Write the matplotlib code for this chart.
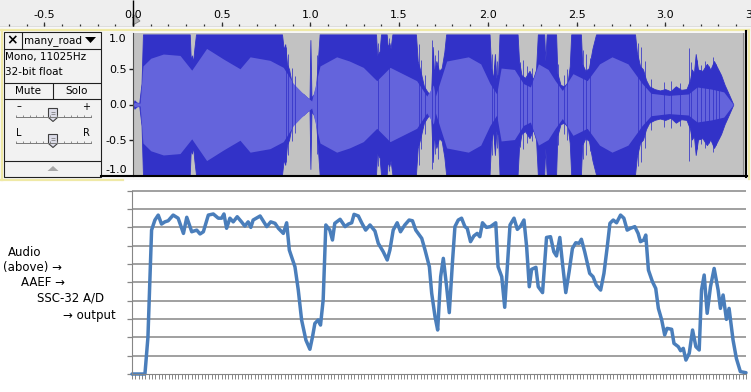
import numpy as np
import matplotlib
matplotlib.use("Agg")
import matplotlib.pyplot as plt
from matplotlib.patches import Rectangle, Polygon

W, H = 751, 392
PX_PER_S = 177.4      # ruler scale of the screenshot
T0_PX = 133           # x pixel of 0.0 s

# --- top: Audacity track -------------------------------------------------
ruler_ticks = [-0.5, 0.0, 0.5, 1.0, 1.5, 2.0, 2.5, 3.0, 3.5]
ruler_labels = ["-0.5", "0.0", "0.5", "1.0", "1.5", "2.0", "2.5", "3.0", "3.5"]

track_name = "many_road"
track_info = ["Mono, 11025Hz", "32-bit float"]

amp_ticks = [1.0, 0.5, 0.0, -0.5, -1.0]
amp_labels = ["1.0", "0.5", "0.0", "-0.5", "-1.0"]

# peak envelope of the waveform (seconds, amplitude)
wave_t = [0.000, 0.008, 0.020, 0.035, 0.048, 0.056, 0.320, 0.326, 0.332, 0.338,
          0.346, 0.355, 0.840, 0.850, 0.858, 0.868, 0.880, 0.892, 0.905, 0.930,
          0.960, 0.985, 0.995, 1.000, 1.006, 1.020, 1.032, 1.042, 1.052, 1.370,
          1.376, 1.390, 1.398, 1.430, 1.436, 1.445, 1.452, 1.462, 1.595, 1.605,
          1.620, 1.640, 1.660, 1.680, 1.690, 1.697, 1.710, 1.725, 1.740, 1.755,
          1.765, 2.010, 2.018, 2.030, 2.040, 2.048, 2.058, 2.066, 2.168, 2.176,
          2.190, 2.210, 2.235, 2.255, 2.272, 2.282, 2.318, 2.324, 2.332, 2.385,
          2.392, 2.410, 2.430, 2.450, 2.462, 2.470, 2.525, 2.532, 2.550, 2.570,
          2.590, 2.610, 2.830, 2.840, 2.858, 2.875, 2.892, 2.910, 2.940, 2.970,
          3.000, 3.030, 3.060, 3.090, 3.120, 3.140, 3.150, 3.162, 3.172, 3.185,
          3.210, 3.235, 3.255, 3.275, 3.295, 3.315, 3.335, 3.360, 3.384]
wave_peak = [0.00, 0.06, 0.03, 0.02, 0.30, 1.00, 1.00, 0.62, 0.70, 0.60,
             0.80, 1.00, 1.00, 0.78, 0.86, 0.58, 0.50, 0.34, 0.24, 0.18,
             0.15, 0.09, 0.08, 0.92, 0.10, 0.15, 0.26, 0.62, 1.00, 1.00,
             0.70, 0.76, 1.00, 1.00, 0.82, 0.88, 0.80, 1.00, 1.00, 0.62,
             0.48, 0.26, 0.18, 0.13, 0.82, 0.45, 0.62, 0.48, 0.52, 0.75,
             1.00, 1.00, 0.55, 0.36, 0.72, 0.38, 0.45, 1.00, 1.00, 0.62,
             0.42, 0.38, 0.48, 0.36, 0.50, 1.00, 1.00, 0.62, 1.00, 1.00,
             0.45, 0.28, 0.26, 0.32, 0.55, 1.00, 1.00, 0.58, 0.48, 0.52,
             0.80, 1.00, 1.00, 0.75, 0.55, 0.50, 0.35, 0.26, 0.22, 0.20,
             0.22, 0.19, 0.26, 0.21, 0.22, 0.35, 0.50, 0.45, 0.72, 0.50,
             0.48, 0.58, 0.50, 0.62, 0.52, 0.42, 0.28, 0.14, 0.00]

# single sample spikes sticking out of the envelope in the quieter parts
spike_t = [0.862, 0.876, 0.898, 0.915, 1.038, 1.383, 1.441, 1.612, 1.626, 1.648,
           1.688, 1.700, 1.718, 2.022, 2.036, 2.052, 2.182, 2.198, 2.222, 2.248,
           2.394, 2.428, 2.446, 2.538, 2.556, 2.578, 2.846, 2.866, 2.884, 2.922,
           2.992, 3.032, 3.082, 3.132, 3.146, 3.178, 3.204, 3.224, 3.248, 3.268,
           3.288, 3.306]
spike_h = [0.82, 0.72, 0.52, 0.40, 0.70, 0.88, 0.95, 0.86, 0.64, 0.42,
           0.92, 0.70, 0.78, 0.72, 0.56, 0.62, 0.60, 0.64, 0.55, 0.52,
           0.58, 0.42, 0.50, 0.78, 0.72, 0.66, 0.88, 0.82, 0.62, 0.36,
           0.32, 0.34, 0.31, 0.80, 0.60, 0.64, 0.56, 0.62, 0.55, 0.68,
           0.58, 0.48]

# rms envelope
rms_t = [0.000, 0.008, 0.040, 0.056, 0.100, 0.171, 0.265, 0.331, 0.415, 0.509,
         0.603, 0.660, 0.772, 0.847, 0.904, 0.950, 0.985, 1.007, 1.054, 1.148,
         1.220, 1.298, 1.374, 1.449, 1.520, 1.599, 1.656, 1.693, 1.705, 1.768,
         1.890, 1.960, 2.012, 2.050, 2.075, 2.150, 2.200, 2.240, 2.285, 2.340,
         2.380, 2.420, 2.480, 2.560, 2.630, 2.700, 2.790, 2.870, 2.920, 3.020,
         3.130, 3.180, 3.260, 3.330, 3.384]
wave_rms = [0.00, 0.03, 0.02, 0.55, 0.66, 0.72, 0.70, 0.49, 0.80, 0.65,
            0.51, 0.68, 0.63, 0.53, 0.30, 0.18, 0.10, 0.05, 0.55, 0.68,
            0.62, 0.53, 0.34, 0.53, 0.44, 0.34, 0.12, 0.28, 0.12, 0.62,
            0.68, 0.58, 0.30, 0.15, 0.52, 0.50, 0.30, 0.25, 0.58, 0.50,
            0.34, 0.20, 0.44, 0.34, 0.58, 0.68, 0.58, 0.30, 0.16, 0.13,
            0.15, 0.25, 0.22, 0.18, 0.00]

# --- bottom: A/D output line chart ---------------------------------------
n_samples = 185
grid_levels = list(range(11))
out_pos = [0, 3.9, 4.8, 5.9, 6.9, 7.9, 8.9, 9.9, 10.9, 12.4,
           13.9, 15.5, 16.5, 18.0, 19.5, 20.5, 21.5, 23.0, 24.5, 26.0,
           27.0, 27.7, 28.5, 29.5, 30.5, 31.7, 33.0, 34.0, 35.0, 35.8,
           36.5, 38.6, 40.6, 41.8, 43.1, 44.1, 45.6, 46.6, 47.4, 49.1,
           50.1, 51.1, 52.4, 53.6, 54.4, 55.1, 56.1, 56.8, 57.6, 58.4,
           59.6, 60.4, 61.1, 62.7, 64.2, 65.2, 66.2, 66.9, 68.2, 69.2,
           70.4, 71.7, 73.2, 74.2, 75.7, 76.9, 77.7, 78.7, 79.9, 80.9,
           82.2, 83.5, 84.5, 85.5, 87.3, 88.3, 89.6, 90.3, 91.3, 92.1,
           93.0, 93.8, 94.8, 95.6, 96.6, 97.3, 98.3, 99.3, 100.3, 101.0,
           102.0, 103.0, 104.0, 104.8, 105.6, 106.8, 108.0, 109.6, 110.3, 111.4,
           112.3, 113.1, 113.9, 115.1, 116.1, 117.1, 118.1, 118.9, 119.7, 120.4,
           121.7, 122.4, 123.7, 124.9, 126.1, 127.1, 127.9, 128.9, 129.7, 130.7,
           131.7, 132.7, 133.7, 134.7, 135.4, 136.4, 137.9, 138.9, 139.9, 141.2,
           142.2, 143.2, 144.0, 145.0, 146.0, 147.2, 148.2, 149.2, 150.2, 151.5,
           152.5, 153.2, 154.2, 154.8, 155.6, 156.8, 157.8, 158.6, 159.6, 160.5,
           161.2, 162.6, 163.3, 164.6, 165.3, 166.1, 166.9, 167.9, 168.9, 169.9,
           170.9, 171.6, 172.4, 173.3, 174.3, 175.4, 176.6, 177.3, 178.1, 179.1,
           179.9, 181.1, 182.1, 183.3, 185.0]
out_level = [0, 0, 2.0, 7.85, 8.4, 8.67, 8.18, 8.3, 8.36, 8.67,
             8.5, 7.67, 8.55, 7.76, 7.85, 7.64, 7.76, 8.67, 8.73, 8.5,
             8.5, 8.73, 7.95, 8.5, 8.3, 8.58, 8.3, 8.07, 8.3, 8.0,
             8.4, 8.62, 8.04, 8.3, 8.22, 7.95, 7.67, 8.25, 6.76, 5.85,
             4.58, 2.95, 1.85, 1.35, 2.04, 2.76, 2.95, 2.67, 4.04, 8.13,
             7.85, 7.31, 8.22, 8.44, 8.04, 8.18, 8.25, 8.71, 8.62, 8.25,
             7.85, 8.13, 7.8, 7.13, 6.67, 6.22, 6.76, 7.85, 8.25, 7.76,
             8.13, 8.4, 8.36, 7.85, 7.4, 6.76, 5.85, 4.4, 3.13, 2.4,
             5.31, 6.31, 4.76, 3.35, 6.22, 8.04, 8.4, 8.5, 8.04, 7.95,
             7.22, 7.53, 7.67, 7.49, 8.25, 8.0, 8.04, 8.25, 5.85, 5.31,
             3.64, 5.85, 8.13, 8.5, 7.89, 8.07, 8.4, 6.95, 4.76, 5.71,
             5.82, 4.76, 4.44, 7.45, 7.49, 6.67, 6.44, 7.45, 6.04, 4.44,
             5.58, 6.85, 7.16, 7.13, 7.35, 6.67, 5.49, 5.31, 4.85, 4.58,
             5.49, 6.95, 8.22, 8.4, 8.25, 8.67, 8.5, 7.85, 7.95, 8.04,
             7.67, 7.22, 7.31, 7.58, 5.67, 5.04, 4.67, 3.58, 2.95, 2.13,
             2.49, 2.44, 1.67, 1.49, 1.27, 1.4, 0.76, 1.13, 2.4, 1.49,
             1.31, 4.58, 5.4, 3.31, 4.76, 5.76, 4.58, 3.58, 4.31, 2.98,
             3.58, 1.85, 0.85, 0.13, 0.07]

caption = ["Audio", "(above) \u2192", "AAEF \u2192", "SSC-32 A/D", "\u2192 output"]

fig = plt.figure(figsize=(W / 100, H / 100), dpi=100)
fig.patch.set_facecolor("white")


def px_axes(x0, y0, x1, y1, z=1):
    ax = fig.add_axes([x0 / W, 1 - y1 / H, (x1 - x0) / W, (y1 - y0) / H])
    ax.set_zorder(z)
    return ax


# background layer in pixel coords
bg = px_axes(0, 0, W, H, 0)
bg.set_xlim(0, W)
bg.set_ylim(H, 0)
bg.axis("off")
bg.add_patch(Rectangle((0, 27), W, 153, facecolor="#f7f7f7", edgecolor="none"))
bg.add_patch(Rectangle((101, 31.5), 32, 144.5, facecolor="#f2f2f2", edgecolor="none"))

# ruler
ruler = px_axes(0, 0, W, 27, 1)
ruler.set_xlim(-T0_PX / PX_PER_S, (W - T0_PX) / PX_PER_S)
ruler.set_ylim(27, 0)
ruler.set_facecolor("#eeeeee")
for s in ruler.spines.values():
    s.set_visible(False)
ruler.set_xticks([])
ruler.set_yticks([])
minor_t = np.round(np.arange(-0.7, 3.55, 0.1), 1)
ruler.vlines(minor_t, 24.2, 25.6, color="#303030", lw=0.9)
ruler.vlines(ruler_ticks, 21.5, 25.6, color="#303030", lw=0.9)
for t, lab in zip(ruler_ticks, ruler_labels):
    ruler.text(t, 14.5, lab, ha="center", va="center", fontsize=8, clip_on=True)
ruler.axhline(26.5, color="#9a9a9a", lw=1)
ruler.vlines(0, 0, 26, color="black", lw=1)
ruler.add_patch(Polygon([(0, 14), (7 / PX_PER_S, 21), (0, 25)],
                        facecolor="#b4b4b4", edgecolor="#808080", lw=0.6))

# waveform
wave = px_axes(T0_PX, 33, 745, 176, 1)
wave.set_xlim(0, (745 - T0_PX) / PX_PER_S)
wave.set_ylim(-1.02, 1.02)
wave.set_facecolor("#c2c2c2")
wave.axvspan(3.44, 3.46, color="#d2d2d2", lw=0)
wave.axvline(3.44, color="#8c8c8c", lw=0.8)
wp = np.array(wave_peak)
wr = np.array(wave_rms)
sh = np.array(spike_h)
wave.fill_between(wave_t, -wp, wp, color="#3232c8", lw=0.6)
wave.vlines(spike_t, -sh, sh, color="#3232c8", lw=0.55)
wave.fill_between(rms_t, -wr, wr, color="#6464dc", lw=0)
for s in ["top", "right", "bottom"]:
    wave.spines[s].set_visible(False)
wave.spines["left"].set_color("#505050")
wave.set_xticks([])
wave.set_yticks(amp_ticks, amp_labels, fontsize=8)
wave.tick_params(axis="y", length=3, width=1, pad=1.5, color="#202020")
ylabs = wave.get_yticklabels()
ylabs[0].set_va("top")
ylabs[-1].set_va("bottom")
yt = wave.yaxis.get_major_ticks()
yt[0].tick1line.set_visible(False)
yt[-1].tick1line.set_visible(False)

# output chart
GRID = "#868686"
chart = px_axes(132, 190.7, 746, 374, 1)
chart.set_xlim(0, n_samples)
chart.set_ylim(0, 10)
chart.patch.set_visible(False)
chart.spines[["top", "right"]].set_visible(False)
chart.spines["left"].set_color(GRID)
chart.spines["bottom"].set_color(GRID)
chart.hlines(grid_levels[1:], 0, n_samples, color=GRID, lw=1.1, clip_on=False)
chart.set_yticks(grid_levels, [])
chart.set_xticks([])
chart.set_xticks(np.arange(0, n_samples + 1), minor=True)
chart.tick_params(axis="y", length=3.5, color=GRID, width=0.9)
chart.tick_params(axis="x", which="minor", length=3.5, color=GRID, width=0.7)
chart.plot(out_pos, out_level, color="#4a7ebb", lw=2.5, clip_on=False,
           solid_joinstyle="round", solid_capstyle="round")

# foreground: track frame, control panel, caption
fg = px_axes(0, 0, W, H, 3)
fg.set_xlim(0, W)
fg.set_ylim(H, 0)
fg.axis("off")
YEL = "#efe9a6"
fg.plot([0, 749], [30, 30], color=YEL, lw=1.6)
fg.plot([1.5, 1.5], [30, 180], color=YEL, lw=1.6)
fg.plot([748.5, 748.5], [30, 179], color=YEL, lw=1.6)
fg.plot([0, 123], [179.5, 179.5], color=YEL, lw=1.6)
fg.plot([101, 747], [176, 176], color="black", lw=1.5)
fg.plot([746, 746], [31, 177], color="black", lw=1.5)

fg.add_patch(Rectangle((3.5, 31.5), 97.5, 145, facecolor="#f2f2f2",
                       edgecolor="#202020", lw=0.8))
fg.hlines([48.5, 82.5, 98.5, 160.5], 3.5, 101, color="#202020", lw=0.8)
fg.vlines(21.5, 31.5, 48.5, color="#202020", lw=0.8)
fg.vlines(52.5, 82.5, 98.5, color="#202020", lw=0.8)
fg.text(12.5, 40, "\u00d7", ha="center", va="center", fontsize=10, fontweight="bold")
fg.text(24, 40.5, track_name, ha="left", va="center", fontsize=7.5)
fg.add_patch(Polygon([(85, 37), (96, 37), (90.5, 43)], facecolor="black", edgecolor="none"))
fg.text(5, 57, track_info[0], ha="left", va="center", fontsize=7.5)
fg.text(5, 72, track_info[1], ha="left", va="center", fontsize=7.5)
fg.text(27.5, 90.5, "Mute", ha="center", va="center", fontsize=7.5)
fg.text(76.5, 90.5, "Solo", ha="center", va="center", fontsize=7.5)

for y_track, left, right in [(116.5, "\u2013", "+"), (142.5, "L", "R")]:
    fg.text(19, y_track - 10, left, ha="center", va="center", fontsize=7)
    fg.text(86.5, y_track - 10, right, ha="center", va="center", fontsize=7)
    fg.plot([16, 91], [y_track, y_track], color="#7a7a7a", lw=0.7)
    fg.vlines(np.linspace(16, 91, 12), y_track - 1.8, y_track, color="#7a7a7a", lw=0.6)
    fg.add_patch(Polygon([(48.5, y_track - 8), (57.5, y_track - 8), (57.5, y_track + 1),
                          (53, y_track + 5), (48.5, y_track + 1)],
                         facecolor="#dcdce8", edgecolor="#404040", lw=0.8))
    fg.hlines([y_track - 4.5, y_track - 2.5], 51, 55, color="#707070", lw=0.5)

fg.add_patch(Polygon([(47.5, 171), (58.5, 171), (53, 166)], facecolor="#a8a8a8",
                     edgecolor="none"))

cap_x = [8, 3, 21, 37, 63]
cap_y = [252, 267, 282, 298, 316]
for txt, cx, cy in zip(caption, cap_x, cap_y):
    fg.text(cx, cy, txt, ha="left", va="center", fontsize=8.5)

fig.savefig("out.png", dpi=100)
